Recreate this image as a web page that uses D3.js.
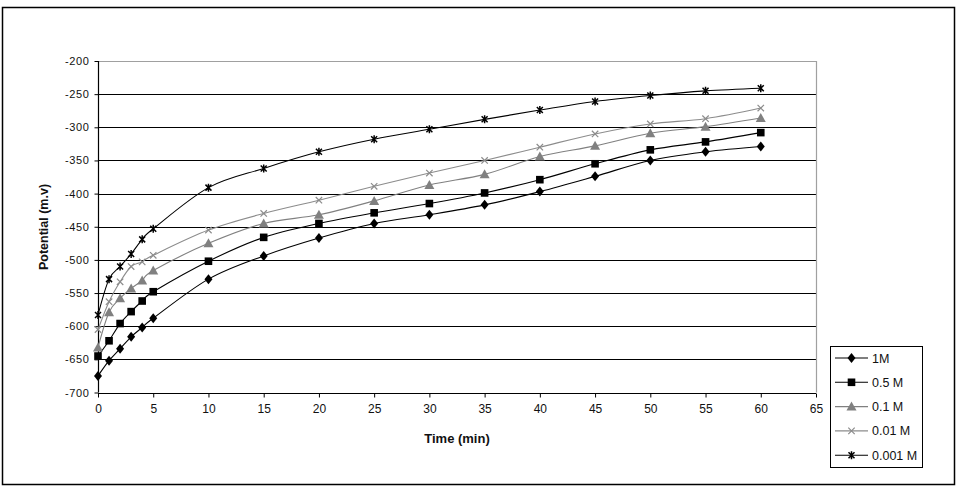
<!DOCTYPE html>
<html><head><meta charset="utf-8">
<script src="https://cdn.jsdelivr.net/npm/d3@7"></script>
<style>body{margin:0;background:#fff}svg{display:block}</style>
</head><body>
<svg id="c" width="962" height="488"></svg>
<script>
const times = [0,1,2,3,4,5,10,15,20,25,30,35,40,45,50,55,60];
const seriesNames = ["1M","0.5 M","0.1 M","0.01 M","0.001 M"];
const v1M    = [-675,-652,-634,-616,-602,-588,-529,-494,-467,-445,-432,-417,-397,-374,-350,-337,-329];
const v05M   = [-645,-622,-596,-578,-562,-548,-502,-466,-445,-429,-415,-399,-379,-355,-334,-322,-308];
const v01M   = [-632,-579,-558,-543,-531,-516,-475,-445,-432,-411,-387,-371,-344,-328,-309,-299,-286];
const v001M  = [-605,-563,-533,-510,-503,-493,-455,-430,-410,-389,-369,-350,-330,-310,-295,-287,-271];
const v0001M = [-583,-529,-510,-491,-469,-453,-391,-362,-337,-318,-303,-288,-274,-261,-252,-245,-241];
const xTicks = [0,5,10,15,20,25,30,35,40,45,50,55,60,65];
const yTicks = [-200,-250,-300,-350,-400,-450,-500,-550,-600,-650,-700];

const allValues = [v1M, v05M, v01M, v001M, v0001M];
const styles = [
  {color:"#000", mk:"diamond"},
  {color:"#000", mk:"square"},
  {color:"#808080", mk:"triangle"},
  {color:"#8c8c8c", mk:"x"},
  {color:"#000", mk:"star"}
];

const svg = d3.select("#c");
const font = "'Liberation Sans', Arial, sans-serif";

svg.append("rect").attr("x",2.5).attr("y",7.5).attr("width",952).attr("height",477)
  .attr("fill","none").attr("stroke","#000").attr("stroke-width",1.5);

const x = d3.scaleLinear().domain([0,65]).range([98,816]);
const y = d3.scaleLinear().domain([-700,-200]).range([392.5,61]);

svg.append("g").selectAll("line").data(yTicks.filter(d=>d>-700 && d<-200)).join("line")
  .attr("x1",x(0)).attr("x2",x(65)).attr("y1",d=>Math.round(y(d))+0.5).attr("y2",d=>Math.round(y(d))+0.5)
  .attr("stroke","#000").attr("stroke-width",1);
svg.append("path").attr("d",`M${x(0)},${Math.round(y(-200))+0.5}H${x(65)+0.5}V${y(-700)}`)
  .attr("fill","none").attr("stroke","#a0a0a0").attr("stroke-width",1.2);

const yAxis = d3.axisLeft(y).tickValues(yTicks).tickSize(4).tickPadding(5).tickFormat(d=>d3.format("d")(d).replace("−","-"));
const gy = svg.append("g").attr("transform",`translate(${x(0)+0.5},0)`).call(yAxis);
const xAxis = d3.axisBottom(x).tickValues(xTicks).tickSize(4).tickPadding(7).tickFormat(d3.format("d"));
const gx = svg.append("g").attr("transform",`translate(0,${Math.round(y(-700))+0.5})`).call(xAxis);
[gx,gy].forEach(g=>{
  g.select(".domain").attr("stroke","#000").attr("stroke-width",1.2);
  g.selectAll(".tick line").attr("stroke","#000");
  g.selectAll("text").attr("font-family",font).attr("font-size",11).attr("fill","#111");
});
gx.selectAll("text").attr("font-size",12);
gy.selectAll("text").attr("letter-spacing",0.6);
gx.select(".domain").attr("d",`M${x(0)},0H${x(65)}`);
gy.select(".domain").attr("d",`M0,${y(-200)}V${y(-700)}`);

svg.append("text").attr("x",457).attr("y",443).attr("text-anchor","middle")
  .attr("font-family",font).attr("font-size",13).attr("font-weight","bold").attr("fill","#111").text("Time (min)");
svg.append("text").attr("transform","translate(48,227) rotate(-90)").attr("text-anchor","middle")
  .attr("font-family",font).attr("font-size",12.5).attr("font-weight","bold").attr("fill","#111").text("Potential (m.v)");

function marker(sel, mk, color){
  if(mk==="diamond") sel.append("path").attr("d","M0,-5L4,0L0,5L-4,0Z").attr("fill",color);
  else if(mk==="square") sel.append("rect").attr("x",-3.8).attr("y",-3.8).attr("width",7.6).attr("height",7.6).attr("fill",color);
  else if(mk==="triangle") sel.append("path").attr("d","M0,-5L5,4L-5,4Z").attr("fill",color);
  else if(mk==="x") sel.append("path").attr("d","M-3.2,-3.2L3.2,3.2M-3.2,3.2L3.2,-3.2").attr("stroke",color).attr("stroke-width",1.2).attr("fill","none");
  else if(mk==="star") sel.append("path").attr("d","M-3,-3L3,3M-3,3L3,-3M0,-4L0,4").attr("stroke",color).attr("stroke-width",1.5).attr("fill","none");
}

const line = d3.line().x(d=>x(d[0])).y(d=>y(d[1])).curve(d3.curveCardinal.tension(0));
allValues.forEach((vals,i)=>{
  const pts = times.map((t,j)=>[t,vals[j]]);
  const g = svg.append("g");
  g.append("path").attr("d",line(pts)).attr("fill","none").attr("stroke",styles[i].color).attr("stroke-width",1.1);
  g.selectAll("g.m").data(pts).join("g").attr("class","m")
    .attr("transform",d=>`translate(${x(d[0])},${y(d[1])})`)
    .each(function(){ marker(d3.select(this), styles[i].mk, styles[i].color); });
});

const lg = svg.append("g");
lg.append("rect").attr("x",830.5).attr("y",346.5).attr("width",92).attr("height",121)
  .attr("fill","#fff").attr("stroke","#000").attr("stroke-width",1);
seriesNames.forEach((name,i)=>{
  const yy = 358 + i*24.3;
  lg.append("line").attr("x1",835).attr("x2",868).attr("y1",yy).attr("y2",yy).attr("stroke",styles[i].color).attr("stroke-width",1.1);
  const m = lg.append("g").attr("transform",`translate(851.5,${yy})`);
  marker(m, styles[i].mk, styles[i].color);
  lg.append("text").attr("x",872).attr("y",yy+4.5).attr("font-family",font).attr("font-size",12.5).attr("fill","#111").text(name);
});
</script>
</body></html>
